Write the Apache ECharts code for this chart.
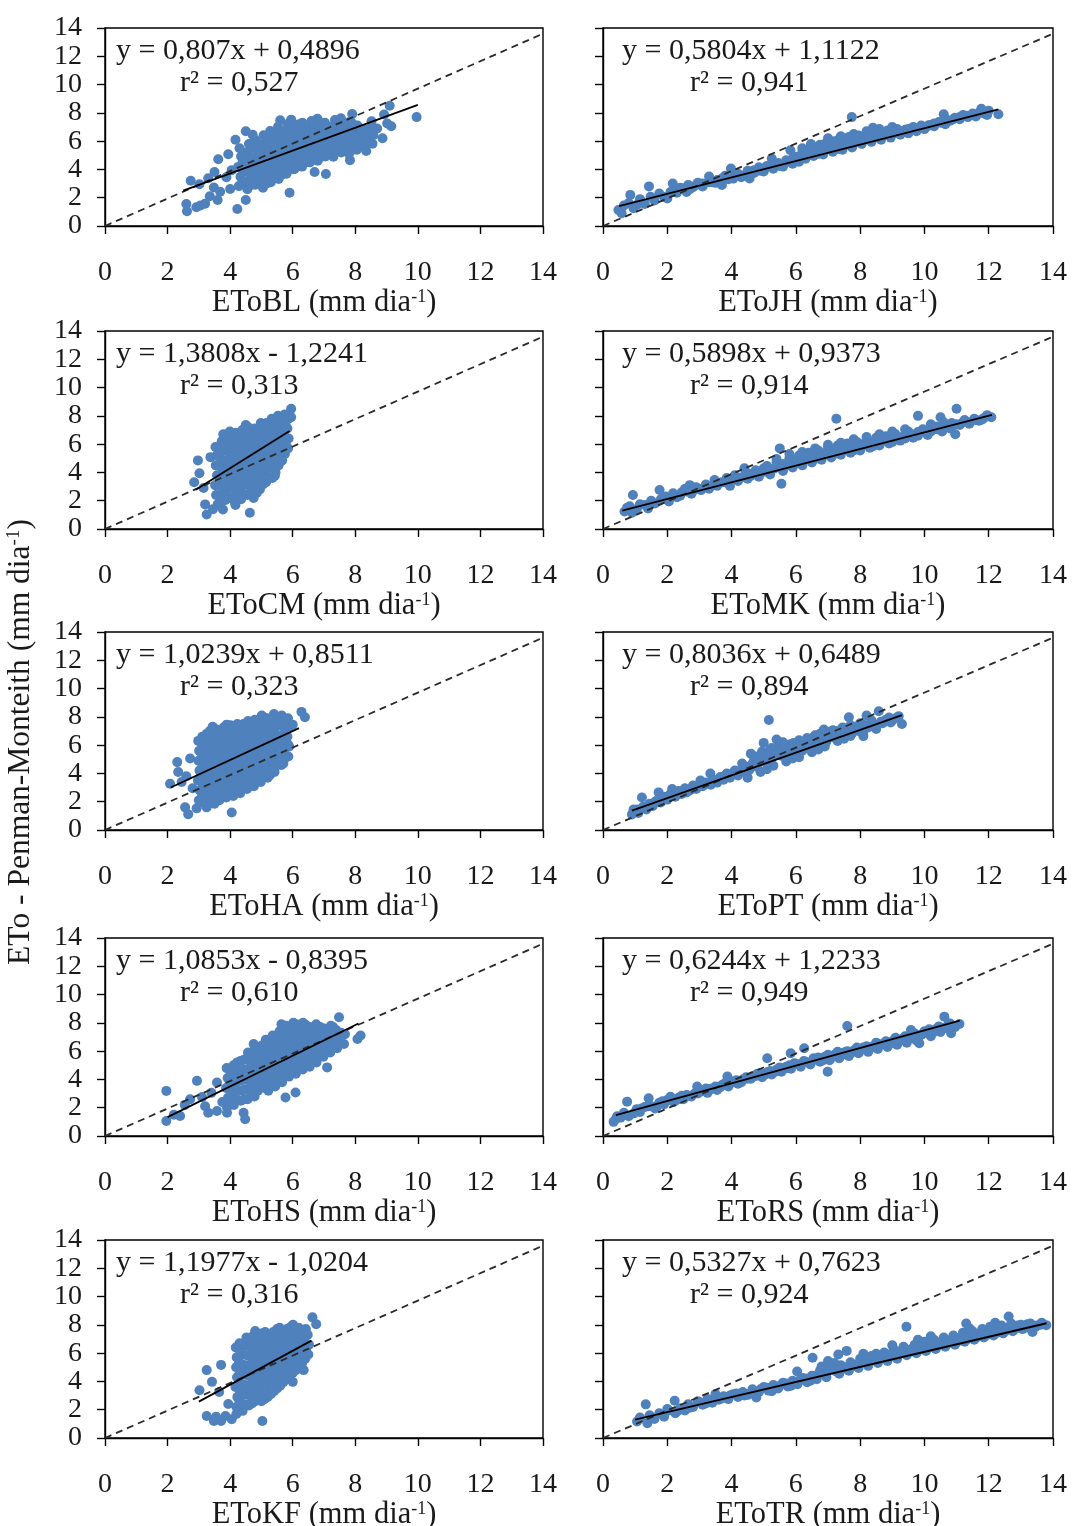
<!DOCTYPE html>
<html>
<head>
<meta charset="utf-8">
<script src="https://cdn.jsdelivr.net/npm/echarts@6/dist/echarts.min.js"></script>
<style>
  html, body { margin: 0; padding: 0; background: #fff; }
  #chart { width: 1072px; height: 1526px; }
</style>
</head>
<body>
<div id="chart"></div>
<script>
// ---- data (x = method, y = Penman-Monteith) ----
const ptsBL = [
  [2.62,1.04],[2.60,1.55],[2.92,1.32],[3.05,1.45],[3.20,1.58],[2.74,3.20],[3.02,2.95],[3.30,3.38],[3.50,3.82],[3.48,2.72],
  [3.60,1.84],[3.68,2.42],[3.62,4.72],[3.94,5.07],[3.88,3.45],[4.00,2.62],[4.23,1.20],[4.50,1.84],[4.17,6.10],[4.50,6.70],
  [4.72,6.45],[5.60,7.48],[5.95,7.52],[5.90,2.35],[6.70,3.82],[7.06,3.68],[7.83,4.65],[7.90,7.92],[8.35,5.30],[8.87,6.20],
  [8.92,7.88],[9.10,8.50],[9.15,7.05],[9.02,7.25],[9.96,7.70],[8.70,6.90],[8.52,7.40],[3.35,2.10],[4.05,3.95],
  [4.28,2.82],[4.33,3.48],[4.26,4.18],[4.35,4.92],[4.30,5.50],
  [4.55,2.60],[4.58,3.22],[4.52,3.90],[4.57,4.52],[4.54,5.14],[4.60,5.80],
  [4.80,2.92],[4.78,3.55],[4.83,4.12],[4.79,4.80],[4.85,5.42],[4.81,6.08],
  [5.05,2.70],[5.08,3.30],[5.02,3.92],[5.06,4.52],[5.10,5.18],[5.03,5.80],[5.07,6.42],
  [5.30,3.10],[5.27,3.72],[5.33,4.30],[5.29,4.92],[5.35,5.50],[5.31,6.12],[5.28,6.72],
  [5.55,3.32],[5.58,3.98],[5.52,4.60],[5.57,5.22],[5.54,5.82],[5.60,6.40],[5.53,7.02],
  [5.80,3.70],[5.83,4.30],[5.78,4.92],[5.82,5.50],[5.85,6.12],[5.79,6.70],[5.84,7.22],
  [6.05,4.02],[6.08,4.62],[6.02,5.20],[6.07,5.82],[6.03,6.40],[6.10,7.00],
  [6.30,4.20],[6.27,4.82],[6.33,5.40],[6.29,6.02],[6.35,6.60],[6.31,7.30],
  [6.55,4.50],[6.58,5.10],[6.52,5.72],[6.57,6.30],[6.54,6.92],[6.60,7.42],
  [6.80,4.62],[6.83,5.22],[6.78,5.80],[6.82,6.42],[6.85,7.00],[6.79,7.58],
  [7.05,4.92],[7.08,5.52],[7.02,6.10],[7.07,6.72],[7.03,7.30],
  [7.30,4.90],[7.27,5.60],[7.33,6.22],[7.29,6.80],[7.35,7.50],
  [7.55,5.20],[7.58,5.80],[7.52,6.40],[7.57,7.00],[7.54,7.62],
  [7.80,5.10],[7.83,5.72],[7.78,6.30],[7.82,6.90],[7.85,7.40],
  [8.05,5.40],[8.08,6.00],[8.02,6.60],[8.07,7.10],
  [8.30,5.60],[8.27,6.22],[8.33,6.80],
  [8.55,5.82],[8.58,6.42],[8.52,7.00]
];
const fillBL = [
  [4.42,3.15],[4.44,3.85],[4.40,4.55],[4.43,5.20],
  [4.67,2.90],[4.69,3.55],[4.65,4.20],[4.68,4.85],[4.66,5.50],
  [4.92,3.20],[4.94,3.85],[4.90,4.45],[4.93,5.10],[4.91,5.75],
  [5.17,3.00],[5.19,3.60],[5.15,4.20],[5.18,4.85],[5.16,5.50],[5.20,6.10],
  [5.42,3.40],[5.44,4.00],[5.40,4.60],[5.43,5.20],[5.41,5.80],[5.45,6.40],
  [5.67,3.65],[5.69,4.30],[5.65,4.90],[5.68,5.50],[5.66,6.10],[5.70,6.70],
  [5.92,4.00],[5.94,4.60],[5.90,5.20],[5.93,5.80],[5.91,6.40],[5.95,7.00],
  [6.17,4.30],[6.19,4.90],[6.15,5.50],[6.18,6.10],[6.16,6.70],[6.20,7.20],
  [6.42,4.50],[6.44,5.10],[6.40,5.70],[6.43,6.30],[6.41,6.90],
  [6.67,4.80],[6.69,5.40],[6.65,6.00],[6.68,6.60],[6.66,7.20],
  [6.92,4.90],[6.94,5.50],[6.90,6.10],[6.93,6.70],[6.91,7.30],
  [7.17,5.20],[7.19,5.80],[7.15,6.40],[7.18,7.00],
  [7.42,5.30],[7.44,5.90],[7.40,6.50],[7.43,7.20],
  [7.67,5.50],[7.69,6.10],[7.65,6.70],[7.68,7.30],
  [7.92,5.40],[7.94,6.00],[7.90,6.60],[7.93,7.20],
  [8.17,5.70],[8.19,6.30],[8.15,6.90],
  [8.42,5.90],[8.44,6.50]
];
const ptsJH = [
  [0.48,1.13],[0.58,0.90],[0.65,1.45],[0.80,1.62],[0.85,2.20],[0.95,1.25],[1.06,1.50],[1.15,1.90],[1.30,1.55],[1.43,2.80],
  [1.48,2.07],[1.60,1.80],[1.75,2.30],[1.90,2.05],[2.00,1.95],[2.17,3.00],[2.25,2.45],[2.40,2.70],[2.60,2.40],[2.65,2.90],
  [2.80,2.75],[2.95,3.05],[3.10,2.80],[3.30,3.50],[3.40,3.10],[3.55,3.25],[3.70,2.90],[3.80,3.55],[3.98,4.06],[4.05,3.35],
  [4.20,3.70],[4.35,3.55],[4.50,3.90],[4.56,3.36],[4.70,3.75],[4.85,4.15],[5.00,3.85],[5.10,4.25],[5.25,4.77],[5.30,4.05],
  [5.45,4.45],[5.60,4.20],[5.70,4.65],[5.83,5.35],[5.90,4.40],[6.00,4.90],[6.10,4.55],[6.20,5.20],[6.30,4.75],[6.40,5.45],
  [6.47,5.80],[6.55,4.95],[6.65,5.30],[6.75,5.75],[6.85,5.05],[6.95,5.50],[7.05,5.95],[7.15,5.25],[7.25,5.70],[7.35,6.15],
  [7.45,5.40],[7.55,5.90],[7.65,6.30],[7.74,7.70],[7.75,5.55],[7.85,6.05],[7.95,6.40],[8.05,5.80],[8.15,6.25],[8.25,6.55],
  [8.35,5.95],[8.45,6.35],[8.55,6.60],[8.65,6.10],[8.75,6.50],[8.85,6.75],[8.95,6.25],[9.05,6.55],[9.15,6.85],[9.25,6.45],
  [9.40,6.80],[9.50,6.55],[9.65,7.00],[9.75,6.70],[9.90,7.10],[10.00,6.85],[10.15,7.15],[10.30,7.05],[10.45,7.35],[10.60,7.90],
  [10.65,7.20],[10.80,7.45],[10.95,7.65],[11.10,7.55],[11.20,7.85],[11.35,7.70],[11.50,7.95],[11.60,7.75],[11.77,8.29],[11.85,7.95],
  [12.00,8.15],[12.30,7.90],[11.95,7.85]
];
const fillJH = [
  [2.10,2.40],[2.30,2.35],[2.50,2.65],[2.70,2.60],[2.90,2.90],[3.10,3.00],[3.30,3.10],[3.50,3.05],[3.70,3.35],[3.90,3.30],
  [4.10,3.60],[4.30,3.45],[4.50,3.80],[4.70,3.95],[4.90,3.90],[5.10,4.15],[5.30,4.30],[5.50,4.25],[5.70,4.50],[5.90,4.75],
  [6.10,4.90],[6.30,5.05],[6.50,5.20],[6.70,5.10],[6.90,5.40],[7.10,5.55],[7.30,5.45],[7.50,5.75],[7.70,5.85],[7.90,5.95],
  [8.10,6.10],[8.30,6.20],[8.50,6.30],[8.70,6.40],[8.90,6.50],[9.10,6.60],[9.30,6.70],[9.50,6.85],[9.70,6.90],[9.90,7.00],
  [10.10,7.05],[10.30,7.25],[10.50,7.30],[10.70,7.50],[10.90,7.55],[11.10,7.70],[11.30,7.80],[11.50,7.85],[11.70,8.00],
  [6.60,5.55],[6.90,5.80],[7.20,6.00],[7.40,6.35],[7.80,6.50],[8.20,6.70],[8.60,6.85],[9.00,7.00],[7.00,6.20],[8.40,6.95],[6.20,5.50]
];
const ptsCM = [
  [2.97,4.85],[3.02,3.94],[2.85,3.30],[3.20,1.74],[3.25,1.03],[3.60,1.74],[3.77,1.38],[4.17,1.70],[4.63,1.15],[3.37,5.08],
  [5.95,8.50],[5.95,7.90],[5.43,7.70],[5.66,4.85],[5.43,3.77],[4.50,7.35],[3.45,1.40],[3.15,2.90],
  [3.55,2.4],[3.52,3.1],[3.58,3.8],[3.54,4.5],[3.57,5.2],[3.53,5.8],
  [3.75,2.0],[3.78,2.7],[3.72,3.4],[3.77,4.1],[3.74,4.8],[3.76,5.5],[3.73,6.2],[3.78,6.7],
  [3.95,2.2],[3.92,2.9],[3.98,3.6],[3.94,4.3],[3.97,5.0],[3.93,5.7],[3.96,6.4],[3.99,6.9],
  [4.15,1.9],[4.18,2.6],[4.12,3.3],[4.17,4.0],[4.14,4.7],[4.16,5.4],[4.13,6.1],[4.18,6.8],
  [4.35,2.1],[4.32,2.8],[4.38,3.5],[4.34,4.2],[4.37,4.9],[4.33,5.6],[4.36,6.3],[4.39,7.0],
  [4.55,2.4],[4.58,3.1],[4.52,3.8],[4.57,4.5],[4.54,5.2],[4.56,5.9],[4.53,6.6],[4.58,7.2],
  [4.75,2.2],[4.72,2.9],[4.78,3.6],[4.74,4.3],[4.77,5.0],[4.73,5.7],[4.76,6.4],[4.79,7.1],
  [4.95,2.8],[4.98,3.5],[4.92,4.2],[4.97,4.9],[4.94,5.6],[4.96,6.3],[4.93,7.0],[4.98,7.5],
  [5.15,3.3],[5.12,4.0],[5.18,4.7],[5.14,5.4],[5.17,6.1],[5.13,6.8],[5.16,7.5],
  [5.35,3.6],[5.38,4.3],[5.32,5.0],[5.37,5.7],[5.34,6.4],[5.36,7.1],[5.33,7.8],
  [5.55,4.5],[5.52,5.2],[5.58,5.9],[5.54,6.6],[5.57,7.3],[5.53,8.0],
  [5.75,5.3],[5.78,6.0],[5.72,6.7],[5.77,7.4],[5.74,8.1]
];
const fillCM = [
  [3.65,2.35],[3.67,3.05],[3.63,3.75],[3.66,4.45],[3.64,5.15],[3.68,5.85],
  [3.85,2.05],[3.87,2.75],[3.83,3.45],[3.86,4.15],[3.84,4.85],[3.88,5.55],[3.85,6.25],
  [4.05,2.25],[4.07,2.95],[4.03,3.65],[4.06,4.35],[4.04,5.05],[4.08,5.75],[4.05,6.45],
  [4.25,2.25],[4.27,2.95],[4.23,3.65],[4.26,4.35],[4.24,5.05],[4.28,5.75],[4.25,6.45],
  [4.45,2.45],[4.47,3.15],[4.43,3.85],[4.46,4.55],[4.44,5.25],[4.48,5.95],[4.45,6.65],
  [4.65,2.55],[4.67,3.25],[4.63,3.95],[4.66,4.65],[4.64,5.35],[4.68,6.05],[4.65,6.75],
  [4.85,2.55],[4.87,3.25],[4.83,3.95],[4.86,4.65],[4.84,5.35],[4.88,6.05],[4.85,6.75],
  [5.05,3.15],[5.07,3.85],[5.03,4.55],[5.06,5.25],[5.04,5.95],[5.08,6.65],[5.05,7.30],
  [5.25,3.65],[5.27,4.35],[5.23,5.05],[5.26,5.75],[5.24,6.45],[5.28,7.15],
  [5.45,4.00],[5.47,4.70],[5.43,5.40],[5.46,6.10],[5.44,6.80],[5.48,7.50],
  [5.65,4.85],[5.67,5.55],[5.63,6.25],[5.66,6.95],[5.64,7.65],
  [5.85,5.70],[5.87,6.40],[5.83,7.10],[5.86,7.80]
];
const ptsMK = [
  [0.67,1.24],[0.75,1.50],[0.83,1.60],[0.93,2.40],[0.90,1.15],[1.05,1.40],[1.15,1.75],[1.30,1.70],[1.40,1.45],[1.50,2.00],
  [1.62,1.80],[1.76,2.76],[1.80,2.10],[1.95,2.30],[2.05,1.95],[2.18,2.53],[2.30,2.25],[2.45,2.60],[2.55,2.85],[2.70,3.10],
  [2.75,2.50],[2.90,2.95],[3.05,2.75],[3.20,3.15],[3.30,2.85],[3.47,3.47],[3.55,3.05],[3.70,3.30],[3.85,3.60],[3.95,3.05],
  [4.10,3.80],[4.20,3.40],[4.30,3.65],[4.40,4.30],[4.50,3.55],[4.60,3.90],[4.75,4.15],[4.85,3.70],[5.00,4.05],[5.10,4.45],
  [5.20,3.85],[5.30,4.25],[5.40,4.70],[5.50,5.70],[5.55,3.20],[5.60,4.10],[5.70,4.55],[5.80,5.00],[5.90,4.35],[6.00,4.80],
  [6.10,5.20],[6.20,4.50],[6.30,4.95],[6.40,5.40],[6.50,4.70],[6.60,5.15],[6.70,5.55],[6.80,4.90],[6.90,5.35],[7.00,5.75],
  [7.10,5.05],[7.20,5.50],[7.26,7.80],[7.30,5.90],[7.40,5.25],[7.50,5.70],[7.60,6.05],[7.70,5.40],[7.80,5.85],[7.90,6.15],
  [8.00,5.55],[8.10,6.00],[8.20,6.30],[8.30,5.75],[8.40,6.15],[8.50,6.45],[8.60,5.90],[8.70,6.30],[8.80,6.55],[8.90,6.05],
  [9.00,6.45],[9.10,6.70],[9.25,6.25],[9.40,6.65],[9.50,6.90],[9.65,6.45],[9.80,8.00],[9.80,6.85],[9.95,7.05],[10.10,6.65],
  [10.25,7.00],[10.40,7.25],[10.50,7.90],[10.55,6.90],[10.70,7.30],[10.85,7.50],[10.96,6.70],[11.00,8.50],[11.10,7.35],[11.25,7.70],
  [11.40,7.55],[11.55,7.80],[11.70,7.65],[11.85,7.85],[12.08,7.90],[11.95,8.05]
];
const fillMK = [
  [2.00,2.20],[2.20,2.40],[2.40,2.35],[2.60,2.65],[2.80,2.70],[3.00,2.85],[3.20,3.00],[3.40,3.10],[3.60,3.25],[3.80,3.30],
  [4.00,3.50],[4.20,3.60],[4.40,3.75],[4.60,3.75],[4.80,3.95],[5.00,4.30],[5.20,4.20],[5.40,4.35],[5.60,4.60],[5.80,4.55],
  [6.00,4.65],[6.20,4.95],[6.40,5.00],[6.60,4.95],[6.80,5.20],[7.00,5.40],[7.20,5.30],[7.40,5.60],[7.60,5.65],[7.80,5.55],
  [8.00,5.90],[8.20,5.95],[8.40,5.85],[8.60,6.20],[8.80,6.25],[9.00,6.15],[9.20,6.50],[9.40,6.40],[9.60,6.70],[9.80,6.60],
  [10.00,6.95],[10.20,6.90],[10.40,7.05],[10.60,7.20],[10.80,7.10],[11.00,7.40],[11.20,7.55],[11.40,7.45],[11.60,7.70],[11.80,7.75],
  [5.80,5.30],[6.20,5.45],[6.60,5.70],[7.00,5.95],[7.40,6.10],[7.80,6.35],[8.20,6.50],[8.60,6.70],[9.00,6.90],[9.40,7.05],
  [5.40,4.95],[10.20,7.40],[10.60,7.55]
];
const ptsHA = [
  [2.08,3.27],[2.31,4.80],[2.34,4.10],[2.72,5.06],[2.56,1.60],[2.66,1.12],[2.93,1.53],[3.25,1.60],[4.05,1.24],[3.89,7.45],
  [4.42,7.50],[5.70,4.70],[5.27,3.87],[6.28,8.35],[6.39,7.97],[6.00,7.45],[2.45,3.40],[2.80,2.95],[2.60,3.80],[3.05,1.95],
  [3.50,1.85],[5.85,6.05],
  [3.00,2.1],[3.03,2.8],[2.97,3.5],[3.02,4.2],[2.99,4.9],[3.01,5.6],[2.98,6.3],
  [3.22,2.0],[3.25,2.7],[3.19,3.4],[3.24,4.1],[3.21,4.8],[3.23,5.5],[3.20,6.2],[3.25,6.8],
  [3.44,1.9],[3.47,2.6],[3.41,3.3],[3.46,4.0],[3.43,4.7],[3.45,5.4],[3.42,6.1],[3.47,6.8],[3.44,7.3],
  [3.66,2.1],[3.69,2.8],[3.63,3.5],[3.68,4.2],[3.65,4.9],[3.67,5.6],[3.64,6.3],[3.69,7.0],
  [3.88,2.3],[3.91,3.0],[3.85,3.7],[3.90,4.4],[3.87,5.1],[3.89,5.8],[3.86,6.5],[3.91,7.2],
  [4.10,2.4],[4.13,3.1],[4.07,3.8],[4.12,4.5],[4.09,5.2],[4.11,5.9],[4.08,6.6],[4.13,7.3],
  [4.32,2.6],[4.35,3.3],[4.29,4.0],[4.34,4.7],[4.31,5.4],[4.33,6.1],[4.30,6.8],[4.35,7.4],
  [4.54,2.9],[4.57,3.6],[4.51,4.3],[4.56,5.0],[4.53,5.7],[4.55,6.4],[4.52,7.1],[4.57,7.7],
  [4.76,3.1],[4.79,3.8],[4.73,4.5],[4.78,5.2],[4.75,5.9],[4.77,6.6],[4.74,7.3],[4.79,7.8],
  [4.98,3.4],[5.01,4.1],[4.95,4.8],[5.00,5.5],[4.97,6.2],[4.99,6.9],[4.96,7.6],[5.01,8.1],
  [5.20,3.7],[5.23,4.4],[5.17,5.1],[5.22,5.8],[5.19,6.5],[5.21,7.2],[5.18,7.9],
  [5.42,4.1],[5.45,4.8],[5.39,5.5],[5.44,6.2],[5.41,6.9],[5.43,7.6],[5.40,8.2],
  [5.64,4.6],[5.67,5.3],[5.61,6.0],[5.66,6.7],[5.63,7.4],[5.65,8.1],
  [5.86,5.2],[5.89,5.9],[5.83,6.6],[5.88,7.3],[5.85,7.9]
];
const fillHA = [
  [3.11,2.45],[3.13,3.15],[3.09,3.85],[3.12,4.55],[3.10,5.25],[3.14,5.95],[3.11,6.60],
  [3.33,2.30],[3.35,3.00],[3.31,3.70],[3.34,4.40],[3.32,5.10],[3.36,5.80],[3.33,6.50],[3.35,7.00],
  [3.55,2.25],[3.57,2.95],[3.53,3.65],[3.56,4.35],[3.54,5.05],[3.58,5.75],[3.55,6.45],[3.57,7.10],
  [3.77,2.45],[3.79,3.15],[3.75,3.85],[3.78,4.55],[3.76,5.25],[3.80,5.95],[3.77,6.65],[3.79,7.25],
  [3.99,2.65],[4.01,3.35],[3.97,4.05],[4.00,4.75],[3.98,5.45],[4.02,6.15],[3.99,6.85],[4.01,7.40],
  [4.21,2.80],[4.23,3.50],[4.19,4.20],[4.22,4.90],[4.20,5.60],[4.24,6.30],[4.21,7.00],[4.23,7.50],
  [4.43,3.00],[4.45,3.70],[4.41,4.40],[4.44,5.10],[4.42,5.80],[4.46,6.50],[4.43,7.20],
  [4.65,3.25],[4.67,3.95],[4.63,4.65],[4.66,5.35],[4.64,6.05],[4.68,6.75],[4.65,7.45],
  [4.87,3.50],[4.89,4.20],[4.85,4.90],[4.88,5.60],[4.86,6.30],[4.90,7.00],[4.87,7.70],
  [5.09,3.80],[5.11,4.50],[5.07,5.20],[5.10,5.90],[5.08,6.60],[5.12,7.30],[5.09,7.95],
  [5.31,4.20],[5.33,4.90],[5.29,5.60],[5.32,6.30],[5.30,7.00],[5.34,7.70],
  [5.53,4.60],[5.55,5.30],[5.51,6.00],[5.54,6.70],[5.52,7.40],[5.56,8.00],
  [5.75,5.10],[5.77,5.80],[5.73,6.50],[5.76,7.20],[5.74,7.85]
];
const ptsPT = [
  [0.90,1.09],[0.95,1.45],[1.06,1.45],[1.10,1.20],[1.21,2.30],[1.25,1.65],[1.35,1.45],[1.45,1.85],[1.55,1.70],[1.65,2.05],
  [1.73,2.66],[1.80,1.95],[1.90,2.35],[2.00,2.15],[2.10,2.55],[2.15,2.90],[2.25,2.35],[2.35,2.75],[2.45,2.55],[2.55,2.95],
  [2.60,2.66],[2.70,2.80],[2.80,3.15],[2.90,2.90],[3.03,3.50],[3.10,3.10],[3.20,3.35],[3.34,4.00],[3.35,3.20],[3.45,3.55],
  [3.55,3.35],[3.65,3.75],[3.75,3.55],[3.85,4.00],[3.95,3.70],[4.07,4.00],[4.10,4.20],[4.20,3.85],[4.33,4.70],[4.35,4.15],
  [4.45,4.45],[4.55,4.25],[4.60,5.40],[4.65,4.70],[4.75,5.20],[4.80,4.45],[4.90,4.85],[5.00,6.16],[5.00,5.30],[5.10,4.75],
  [5.16,7.78],[5.20,5.65],[5.25,5.05],[5.35,5.50],[5.40,6.40],[5.45,5.90],[5.55,5.25],[5.60,6.20],[5.70,5.65],[5.80,6.05],
  [5.85,5.40],[5.93,6.16],[6.00,5.75],[6.10,6.35],[6.20,5.60],[6.25,6.05],[6.35,6.50],[6.45,5.85],[6.50,6.25],[6.60,6.70],
  [6.70,6.05],[6.80,6.50],[6.87,7.10],[6.95,6.25],[7.05,6.70],[7.15,7.05],[7.25,6.45],[7.35,6.90],[7.45,7.25],[7.55,6.65],
  [7.65,7.97],[7.65,7.10],[7.75,6.85],[7.85,7.30],[7.95,7.00],[8.10,6.64],[8.10,7.45],[8.20,8.10],[8.25,7.25],[8.40,7.55],
  [8.50,7.15],[8.58,8.40],[8.65,7.65],[8.80,7.80],[8.95,7.60],[9.10,7.90],[9.30,7.50],[9.20,8.05]
];
const fillPT = [
  [1.40,1.65],[1.60,1.95],[1.85,2.15],[2.05,2.40],[2.30,2.50],[2.50,2.80],[2.75,2.90],[2.95,3.05],[3.15,3.30],[3.40,3.45],
  [3.60,3.60],[3.80,3.85],[4.00,3.95],[4.20,4.15],[4.40,4.30],[4.60,4.55],[4.70,4.95],[4.85,5.10],[4.95,5.55],[5.05,5.00],
  [5.15,5.40],[5.25,5.80],[5.30,5.30],[5.50,5.45],[5.50,6.00],[5.65,5.95],[5.75,5.40],[5.90,5.80],[6.05,6.05],[6.15,5.70],
  [6.30,6.25],[6.40,6.00],[6.55,6.55],[6.65,6.30],[6.75,6.80],[6.90,6.45],[7.00,6.95],[7.10,6.60],[7.25,7.00],[7.40,6.85],
  [7.50,7.20],[7.70,7.40],[7.80,7.05],[8.00,7.55],[8.15,7.20],[8.35,7.75],[8.45,7.40],[8.70,7.55],[8.90,7.95],[9.00,7.75],
  [4.50,3.70],[4.90,4.10],[5.30,4.55],[5.70,4.85],[6.10,5.15],[6.50,5.50],[6.90,5.90],[7.30,6.30],[7.70,6.65],[8.10,7.00],
  [5.10,4.30],[5.90,5.05],[6.70,5.70],[7.50,6.45]
];
const ptsHS = [
  [1.96,3.19],[1.96,1.06],[2.40,1.42],[2.94,3.90],[2.72,2.60],[3.30,1.65],[3.58,1.77],[3.90,1.65],[4.43,1.65],[4.48,1.18],
  [3.58,3.78],[4.75,6.50],[5.77,2.72],[6.09,3.07],[7.10,4.85],[7.48,8.40],[8.07,6.86],[8.17,7.10],[2.20,1.50],[2.55,2.20],
  [3.10,2.75],[3.40,3.05],[3.75,2.40],[3.20,2.10],
  [3.90,2.0],[3.93,2.7],[3.87,3.4],[3.92,4.1],[3.89,4.8],
  [4.12,2.2],[4.15,2.9],[4.09,3.6],[4.14,4.3],[4.11,5.0],
  [4.34,2.5],[4.37,3.2],[4.31,3.9],[4.36,4.6],[4.33,5.3],
  [4.56,2.6],[4.59,3.3],[4.53,4.0],[4.58,4.7],[4.55,5.4],[4.57,5.9],
  [4.78,2.8],[4.81,3.5],[4.75,4.2],[4.80,4.9],[4.77,5.6],[4.79,6.2],
  [5.03,3.6],[4.97,4.3],[5.02,5.0],[4.99,5.7],[5.01,6.4],
  [5.22,3.2],[5.25,3.9],[5.19,4.6],[5.24,5.3],[5.21,6.0],[5.23,6.7],
  [5.44,3.5],[5.47,4.2],[5.41,4.9],[5.46,5.6],[5.43,6.3],[5.45,7.0],
  [5.66,3.8],[5.69,4.5],[5.63,5.2],[5.68,5.9],[5.65,6.6],[5.67,7.3],[5.64,7.9],
  [5.88,4.2],[5.91,4.9],[5.85,5.6],[5.90,6.3],[5.87,7.0],[5.89,7.7],
  [6.10,4.4],[6.13,5.1],[6.07,5.8],[6.12,6.5],[6.09,7.2],[6.11,7.9],
  [6.32,4.7],[6.35,5.4],[6.29,6.1],[6.34,6.8],[6.31,7.5],[6.33,8.0],
  [6.54,4.9],[6.57,5.6],[6.51,6.3],[6.56,7.0],[6.53,7.7],
  [6.76,5.2],[6.79,5.9],[6.73,6.6],[6.78,7.3],[6.75,7.9],
  [6.98,5.6],[7.01,6.3],[6.95,7.0],[7.00,7.6],
  [7.20,5.9],[7.23,6.6],[7.17,7.3],[7.22,7.8],
  [7.42,6.2],[7.45,6.9],[7.39,7.5],
  [7.64,6.5],[7.67,7.2]
];
const fillHS = [
  [4.01,2.35],[4.03,3.05],[3.99,3.75],[4.02,4.45],
  [4.23,2.55],[4.25,3.25],[4.21,3.95],[4.24,4.65],[4.22,5.20],
  [4.45,2.60],[4.47,3.30],[4.43,4.00],[4.46,4.70],[4.44,5.40],
  [4.67,2.95],[4.69,3.65],[4.65,4.35],[4.68,5.05],[4.66,5.75],
  [4.89,3.20],[4.91,3.90],[4.87,4.60],[4.90,5.30],[4.88,6.00],
  [5.11,3.40],[5.13,4.10],[5.09,4.80],[5.12,5.50],[5.10,6.20],[5.14,6.80],
  [5.33,3.60],[5.35,4.30],[5.31,5.00],[5.34,5.70],[5.32,6.40],[5.36,7.10],
  [5.55,3.90],[5.57,4.60],[5.53,5.30],[5.56,6.00],[5.54,6.70],[5.58,7.40],
  [5.77,4.30],[5.79,5.00],[5.75,5.70],[5.78,6.40],[5.76,7.10],[5.80,7.80],
  [5.99,4.55],[6.01,5.25],[5.97,5.95],[6.00,6.65],[5.98,7.35],[6.02,8.00],
  [6.21,4.80],[6.23,5.50],[6.19,6.20],[6.22,6.90],[6.20,7.60],
  [6.43,5.05],[6.45,5.75],[6.41,6.45],[6.44,7.15],[6.42,7.85],
  [6.65,5.30],[6.67,6.00],[6.63,6.70],[6.66,7.40],
  [6.87,5.60],[6.89,6.30],[6.85,7.00],[6.88,7.70],
  [7.09,5.90],[7.11,6.60],[7.07,7.30],
  [7.31,6.30],[7.33,7.00],[7.29,7.70],
  [7.53,6.60],[7.55,7.30]
];
const ptsRS = [
  [0.33,1.00],[0.44,1.40],[0.40,1.20],[0.55,1.30],[0.65,1.65],[0.75,2.43],[0.80,1.40],[0.96,1.60],[1.05,1.90],[1.15,1.70],
  [1.30,2.05],[1.42,2.67],[1.50,2.10],[1.62,1.95],[1.75,2.35],[1.90,2.25],[2.00,2.55],[2.10,2.78],[2.20,2.40],[2.35,2.70],
  [2.50,2.60],[2.60,2.90],[2.75,2.80],[2.93,3.50],[2.95,3.00],[3.10,3.20],[3.25,3.05],[3.40,3.35],[3.55,3.25],[3.70,3.60],
  [3.87,4.20],[3.90,3.50],[4.05,3.80],[4.20,3.70],[4.35,4.00],[4.50,4.05],[4.65,4.20],[4.80,4.40],[4.95,4.15],[5.11,5.50],
  [5.10,4.50],[5.25,4.35],[5.40,4.70],[5.55,4.55],[5.70,4.90],[5.84,5.85],[5.85,4.75],[6.00,5.10],[6.15,4.90],[6.26,6.20],
  [6.30,5.25],[6.45,5.05],[6.60,5.40],[6.75,5.25],[6.90,5.60],[6.99,4.55],[7.05,5.35],[7.20,5.75],[7.35,5.50],[7.50,5.90],
  [7.60,7.78],[7.65,5.65],[7.80,6.05],[7.95,5.85],[8.10,6.25],[8.25,5.95],[8.40,6.35],[8.55,6.15],[8.70,6.50],[8.85,6.30],
  [9.00,6.70],[9.15,6.45],[9.30,6.85],[9.45,6.60],[9.58,7.50],[9.60,6.95],[9.75,6.75],[9.84,6.56],[9.90,7.15],[10.05,7.30],
  [10.20,7.05],[10.35,7.55],[10.50,7.35],[10.62,8.44],[10.65,7.65],[10.83,7.26],[10.90,7.80],[11.09,7.92],[10.75,7.95]
];
const fillRS = [
  [1.20,1.95],[1.40,2.10],[1.70,2.15],[1.85,2.45],[2.15,2.50],[2.30,2.55],[2.45,2.85],[2.65,2.85],[2.85,3.00],[3.05,3.15],
  [3.20,3.35],[3.35,3.30],[3.50,3.50],[3.65,3.45],[3.80,3.75],[4.00,3.85],[4.15,3.95],[4.30,3.80],[4.45,4.15],[4.60,4.05],
  [4.75,4.25],[4.90,4.45],[5.05,4.35],[5.20,4.60],[5.35,4.55],[5.50,4.85],[5.65,4.75],[5.80,5.00],[5.95,5.15],[6.10,5.05],
  [6.25,5.30],[6.40,5.20],[6.55,5.50],[6.70,5.55],[6.85,5.35],[7.00,5.75],[7.15,5.60],[7.30,5.95],[7.45,5.75],[7.60,6.00],
  [7.75,5.90],[7.90,6.25],[8.05,6.10],[8.20,6.35],[8.35,6.25],[8.50,6.60],[8.65,6.45],[8.80,6.70],[8.95,6.55],[9.10,6.95],
  [9.25,6.75],[9.40,7.05],[9.55,6.90],[9.70,7.25],[9.85,7.10],[10.00,7.40],[10.15,7.55],[10.30,7.35],[10.45,7.75],[10.60,7.60],
  [10.80,7.95],[10.95,7.70]
];
const ptsKF = [
  [3.02,3.37],[3.25,4.80],[3.42,3.97],[3.65,3.25],[3.71,5.17],[3.25,1.56],[3.48,1.20],[3.71,1.20],[4.05,1.32],[3.94,2.40],
  [5.03,1.20],[4.40,1.92],[4.80,7.57],[6.00,3.97],[6.35,4.80],[6.63,8.53],[6.75,8.05],[3.55,1.50],[3.85,1.55],[4.20,1.70],
  [4.20,2.2],[4.23,2.9],[4.17,3.6],[4.22,4.3],[4.19,5.0],[4.21,5.7],[4.18,6.4],
  [4.40,2.4],[4.43,3.1],[4.37,3.8],[4.42,4.5],[4.39,5.2],[4.41,5.9],[4.38,6.6],
  [4.60,2.3],[4.63,3.0],[4.57,3.7],[4.62,4.4],[4.59,5.1],[4.61,5.8],[4.58,6.5],[4.63,7.0],
  [4.80,2.6],[4.83,3.3],[4.77,4.0],[4.82,4.7],[4.79,5.4],[4.81,6.1],[4.78,6.8],
  [5.00,2.6],[5.03,3.3],[4.97,4.0],[5.02,4.7],[4.99,5.4],[5.01,6.1],[4.98,6.8],[5.03,7.4],
  [5.20,2.9],[5.23,3.6],[5.17,4.3],[5.22,5.0],[5.19,5.7],[5.21,6.4],[5.18,7.1],
  [5.40,3.3],[5.43,4.0],[5.37,4.7],[5.42,5.4],[5.39,6.1],[5.41,6.8],[5.38,7.5],
  [5.60,3.7],[5.63,4.4],[5.57,5.1],[5.62,5.8],[5.59,6.5],[5.61,7.2],[5.58,7.8],
  [5.80,4.2],[5.83,4.9],[5.77,5.6],[5.82,6.3],[5.79,7.0],[5.81,7.7],
  [6.00,4.6],[6.03,5.3],[5.97,6.0],[6.02,6.7],[5.99,7.4],[6.01,8.0],
  [6.20,5.0],[6.23,5.7],[6.17,6.4],[6.22,7.1],[6.19,7.8],
  [6.40,5.6],[6.43,6.3],[6.37,7.0],[6.42,7.7]
];
const fillKF = [
  [4.30,2.55],[4.32,3.25],[4.28,3.95],[4.31,4.65],[4.29,5.35],[4.33,6.05],[4.30,6.70],
  [4.50,2.35],[4.52,3.05],[4.48,3.75],[4.51,4.45],[4.49,5.15],[4.53,5.85],[4.50,6.55],[4.52,7.10],
  [4.70,2.45],[4.72,3.15],[4.68,3.85],[4.71,4.55],[4.69,5.25],[4.73,5.95],[4.70,6.65],[4.72,7.20],
  [4.90,2.95],[4.92,3.65],[4.88,4.35],[4.91,5.05],[4.89,5.75],[4.93,6.45],[4.90,7.10],
  [5.10,2.75],[5.12,3.45],[5.08,4.15],[5.11,4.85],[5.09,5.55],[5.13,6.25],[5.10,6.95],[5.12,7.50],
  [5.30,3.10],[5.32,3.80],[5.28,4.50],[5.31,5.20],[5.29,5.90],[5.33,6.60],[5.30,7.30],
  [5.50,3.50],[5.52,4.20],[5.48,4.90],[5.51,5.60],[5.49,6.30],[5.53,7.00],[5.50,7.70],
  [5.70,3.95],[5.72,4.65],[5.68,5.35],[5.71,6.05],[5.69,6.75],[5.73,7.45],
  [5.90,4.40],[5.92,5.10],[5.88,5.80],[5.91,6.50],[5.89,7.20],[5.93,7.85],
  [6.10,4.80],[6.12,5.50],[6.08,6.20],[6.11,6.90],[6.09,7.60],
  [6.30,5.30],[6.32,6.00],[6.28,6.70],[6.31,7.40],
  [6.50,5.90],[6.52,6.60],[6.48,7.30]
];
const ptsTR = [
  [1.06,1.17],[1.15,1.45],[1.33,2.38],[1.38,1.05],[1.45,1.60],[1.60,1.35],[1.75,1.75],[1.90,1.50],[2.05,1.95],[2.23,2.63],
  [2.25,1.75],[2.40,2.10],[2.55,1.95],[2.65,2.38],[2.80,2.20],[2.95,2.60],[3.10,2.35],[3.25,2.75],[3.40,2.50],[3.50,3.10],
  [3.60,2.70],[3.75,2.95],[3.90,2.75],[4.05,3.10],[4.20,2.90],[4.35,3.25],[4.50,3.05],[4.65,3.45],[4.77,2.87],[4.85,3.25],
  [5.00,3.60],[5.15,3.35],[5.30,3.75],[5.45,3.50],[5.60,3.90],[5.75,3.65],[5.90,4.05],[6.04,4.70],[6.05,3.80],[6.20,4.25],
  [6.35,3.95],[6.52,5.67],[6.50,4.40],[6.65,4.15],[6.80,4.60],[6.95,4.30],[7.10,4.85],[7.20,5.30],[7.32,5.90],[7.35,4.55],
  [7.50,5.00],[7.58,6.16],[7.65,4.75],[7.80,5.20],[7.95,4.95],[8.10,5.40],[8.25,5.10],[8.40,5.65],[8.50,5.95],[8.55,5.30],
  [8.70,5.80],[8.85,5.45],[9.00,6.00],[9.15,5.60],[9.30,6.20],[9.44,7.86],[9.45,5.85],[9.60,6.30],[9.75,6.00],[9.90,6.45],
  [10.05,6.15],[10.20,6.55],[10.35,6.30],[10.50,6.75],[10.65,6.45],[10.80,6.90],[10.95,6.60],[11.10,7.05],[11.25,6.80],[11.30,8.10],
  [11.40,7.30],[11.55,6.95],[11.70,7.35],[11.85,7.10],[12.04,7.86],[12.00,7.50],[12.15,7.25],[12.30,7.65],[12.45,7.40],[12.62,8.59],
  [12.60,7.80],[12.75,7.55],[12.90,7.95],[13.05,7.70],[13.20,8.05],[13.36,7.50],[13.50,7.95],[13.65,8.15],[13.79,7.98]
];
const fillTR = [
  [2.00,2.05],[2.35,1.95],[2.70,2.15],[3.00,2.55],[3.20,2.45],[3.45,2.65],[3.70,2.80],[3.95,3.00],[4.15,3.15],[4.40,3.00],
  [4.60,3.20],[4.90,3.45],[5.10,3.55],[5.25,3.30],[5.50,3.70],[5.70,3.85],[5.85,3.70],[6.10,4.05],[6.30,4.20],[6.45,4.05],
  [6.60,4.40],[6.75,4.75],[6.90,4.55],[7.05,4.95],[7.25,4.70],[7.40,5.15],[7.55,4.90],[7.70,5.35],[7.85,5.10],[8.00,5.60],
  [8.20,5.30],[8.35,5.80],[8.60,5.55],[8.75,6.05],[8.90,5.75],[9.05,6.25],[9.20,5.90],[9.35,6.45],[9.55,6.10],[9.70,6.60],
  [9.85,6.25],[10.00,6.80],[10.15,6.40],[10.30,6.95],[10.45,6.55],[10.60,7.10],[10.75,6.70],[10.90,7.25],[11.05,6.85],[11.20,7.45],
  [11.35,7.00],[11.50,7.55],[11.65,7.15],[11.80,7.70],[11.95,7.30],[12.10,7.85],[12.25,7.45],[12.40,7.95],[12.55,7.60],[12.70,8.10],
  [12.85,7.75],[13.00,8.00],[13.15,7.80],[13.30,8.10],[13.45,7.85],[13.60,8.00],
  [7.00,5.45],[8.10,5.95],[9.00,6.55],[10.20,7.20],[11.40,7.75],[12.20,8.15],[6.80,5.05],[9.80,6.95]
];

const methods = ['EToBL', 'EToJH', 'EToCM', 'EToMK', 'EToHA', 'EToPT', 'EToHS', 'EToRS', 'EToKF', 'EToTR'];
const slopes = [0.807, 0.5804, 1.3808, 0.5898, 1.0239, 0.8036, 1.0853, 0.6244, 1.1977, 0.5327];
const intercepts = [0.4896, 1.1122, -1.2241, 0.9373, 0.8511, 0.6489, -0.8395, 1.2233, -1.0204, 0.7623];
const r2 = [0.527, 0.941, 0.313, 0.914, 0.323, 0.894, 0.610, 0.949, 0.316, 0.924];
const trendRange = [[2.5, 10.0], [0.5, 12.3], [2.9, 5.9], [0.6, 12.1], [2.1, 6.2],
                    [0.9, 9.3], [2.0, 8.1], [0.4, 11.1], [3.0, 6.6], [1.0, 13.8]];
const oneToOne = [[0, 0], [14, 13.6]];
const axisTicks = [0, 14, 2]; // min, max, step

const allPts = [
  ptsBL.concat(fillBL), ptsJH.concat(fillJH), ptsCM.concat(fillCM), ptsMK.concat(fillMK),
  ptsHA.concat(fillHA), ptsPT.concat(fillPT), ptsHS.concat(fillHS), ptsRS.concat(fillRS),
  ptsKF.concat(fillKF), ptsTR.concat(fillTR)
];

// ---- layout ----
const FONT = '"Liberation Serif", "Times New Roman", serif';
const INK = '#1a1a1a';
const colLeft = [105, 603];
const colWidth = [438, 450];
const rowTop = [28, 331, 632, 938, 1240];
const plotH = 198;

function dec(v) { return String(v).replace('.', ','); }

let grids = [], xAxes = [], yAxes = [], series = [], texts = [];

for (let i = 0; i < 10; i++) {
  let row = Math.floor(i / 2), col = i % 2;
  let left = colLeft[col], top = rowTop[row];

  grids.push({
    left: left, top: top, width: colWidth[col], height: plotH,
    show: true, borderColor: '#000', borderWidth: 1.4,
    outerBoundsMode: 'none'
  });

  xAxes.push({
    gridIndex: i, type: 'value',
    min: axisTicks[0], max: axisTicks[1], interval: axisTicks[2],
    axisLine: { onZero: false, lineStyle: { color: '#000', width: 1.4 } },
    axisTick: { inside: false, length: 8, lineStyle: { color: '#000', width: 1.4 } },
    splitLine: { show: false },
    axisLabel: {
      margin: 33, fontSize: 28, fontFamily: FONT, color: INK,
      showMinLabel: true, showMaxLabel: true, hideOverlap: false
    },
    name: methods[i] + ' (mm dia{sup|-1})',
    nameLocation: 'middle', nameGap: 50,
    nameTextStyle: {
      fontSize: 30.5, fontFamily: FONT, color: INK,
      rich: { sup: { fontSize: 18, fontFamily: FONT, color: INK, verticalAlign: 'top' } }
    }
  });

  yAxes.push({
    gridIndex: i, type: 'value',
    min: axisTicks[0], max: axisTicks[1], interval: axisTicks[2],
    axisLine: { onZero: false, lineStyle: { color: '#000', width: 1.4 } },
    axisTick: { inside: false, length: 8, lineStyle: { color: '#000', width: 1.4 } },
    splitLine: { show: false },
    axisLabel: {
      show: col === 0, margin: 23, fontSize: 28, fontFamily: FONT, color: INK,
      showMinLabel: true, showMaxLabel: true, hideOverlap: false
    }
  });

  series.push({
    type: 'scatter', xAxisIndex: i, yAxisIndex: i,
    data: allPts[i], symbolSize: 10, z: 2, silent: true,
    itemStyle: { color: '#4f81bd', opacity: 1 }
  });

  let a = slopes[i], b = intercepts[i], r = trendRange[i];
  series.push({
    type: 'line', xAxisIndex: i, yAxisIndex: i, z: 4, silent: true,
    data: [[r[0], a * r[0] + b], [r[1], a * r[1] + b]],
    showSymbol: false, lineStyle: { color: '#000', width: 1.8 }
  });

  series.push({
    type: 'line', xAxisIndex: i, yAxisIndex: i, z: 3, silent: true,
    data: oneToOne, showSymbol: false,
    lineStyle: { color: '#2a2a2a', width: 1.8, type: [7, 5] }
  });

  let sign = b < 0 ? ' - ' : ' + ';
  let eq = 'y = ' + dec(a) + 'x' + sign + dec(Math.abs(b));
  texts.push({
    type: 'text', x: left + (col === 0 ? 11 : 19), y: top + 23, z: 10,
    style: { text: eq, fontSize: 30, fontFamily: FONT, fill: INK, verticalAlign: 'middle' }
  });
  texts.push({
    type: 'text', x: left + (col === 0 ? 75 : 87), y: top + 55, z: 10,
    style: { text: 'r² = ' + dec(r2[i].toFixed(3)), fontSize: 30, fontFamily: FONT, fill: INK, verticalAlign: 'middle' }
  });
}

texts.push({
  type: 'text', x: 21, y: 742, rotation: Math.PI / 2, z: 10,
  style: {
    text: 'ETo - Penman-Monteith (mm dia{sup|-1})',
    fontSize: 31.5, fontFamily: FONT, fill: INK, align: 'center', verticalAlign: 'middle',
    rich: { sup: { fontSize: 19, fontFamily: FONT, fill: INK, verticalAlign: 'top' } }
  }
});

let myChart = echarts.init(document.getElementById('chart'));
myChart.setOption({
  animation: false,
  backgroundColor: '#fff',
  grid: grids,
  xAxis: xAxes,
  yAxis: yAxes,
  series: series,
  graphic: texts
});
</script>
</body>
</html>
